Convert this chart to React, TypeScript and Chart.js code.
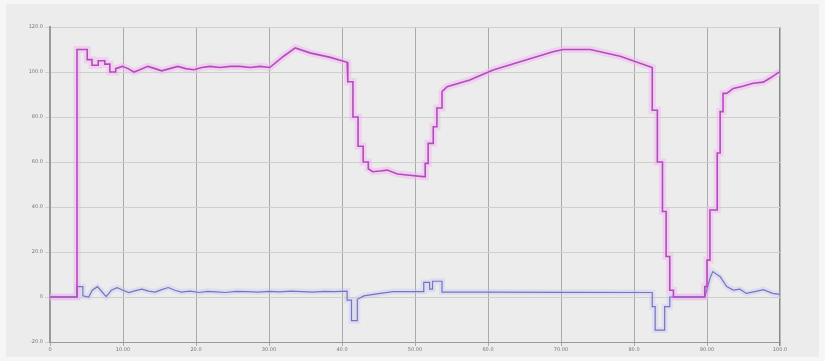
import React, { useEffect, useRef } from "react";
import { Chart, registerables } from "chart.js";

Chart.register(...registerables);

const xTickLabels = ["0", "10.00", "20.0", "30.00", "40.0", "50.00", "60.0", "70.00", "80.0", "90.00", "100.0"];
const yTickLabels = ["-20.0", "0", "20.0", "40.0", "60.0", "80.0", "100.0", "120.0"];

const magentaX = [
  0, 3.7, 3.7, 5.1, 5.1, 5.75, 5.75, 6.6, 6.6, 7.5, 7.5, 8.2, 8.2, 9.0, 9.0,
  9.9, 10.7, 11.5, 12.3, 13.4, 14.4, 15.3, 16.4, 17.5, 18.6, 19.7, 20.8, 21.9,
  23.3, 24.7, 26.0, 27.4, 28.8, 30.1, 32.0, 33.6, 35.6, 38.4, 40.7,
  40.8, 40.8, 41.5, 41.5, 42.2, 42.2, 42.9, 42.9, 43.6, 43.6, 44.2,
  45.2, 46.2, 47.6, 48.9, 51.1,
  51.4, 51.4, 51.8, 51.8, 52.5, 52.5, 53.0, 53.0, 53.7, 53.7, 54.4,
  57.5, 60.7, 64.4, 68.9, 70.3, 74.0, 78.1, 82.5,
  82.5, 83.2, 83.2, 83.9, 83.9, 84.4, 84.4, 84.9, 84.9, 85.4, 85.4,
  89.7, 89.7, 90.0, 90.0, 90.4, 90.4, 91.4, 91.4, 91.8, 91.8, 92.2, 92.2, 92.7,
  93.6, 94.9, 96.3, 97.7, 98.6, 99.6, 100
];
const magentaY = [
  0, 0, 110, 110, 105.5, 105.5, 103, 103, 105, 105, 103.5, 103.5, 100, 100, 101.5,
  102.5, 101.5, 100, 101, 102.5, 101.5, 100.5, 101.5, 102.5, 101.5, 101, 102, 102.5,
  102, 102.5, 102.5, 102, 102.5, 102, 107, 110.7, 108.5, 106.5, 104.3,
  104, 95.7, 95.7, 80, 80, 67, 67, 60, 60, 57, 55.7,
  56, 56.4, 54.7, 54.2, 53.5,
  53.5, 59.4, 59.4, 68.3, 68.3, 75.7, 75.7, 84, 84, 91.3, 93.5,
  96.4, 100.9, 104.6, 109, 110, 110, 107, 102,
  83, 83, 60, 60, 38, 38, 18, 18, 3, 3, 0,
  0, 4.6, 4.6, 16.4, 16.4, 38.7, 38.7, 64, 64, 82.4, 82.4, 90.5, 90.5, 92.7,
  93.7, 95, 95.5, 97.2, 99.4, 100.1, 100
];

const blueX = [
  0, 3.7, 3.7, 4.5, 4.5, 5.3, 5.8, 6.5, 7.2, 7.7, 8.4, 9.2, 10.0, 10.8, 11.7,
  12.6, 13.5, 14.4, 15.3, 16.2, 17.1, 18.0, 19.2, 20.4, 21.6, 22.8, 24.0, 25.5,
  27.0, 28.5, 30.0, 31.5, 33.0, 34.5, 36.0, 37.5, 39.0, 40.7,
  40.7, 41.3, 41.3, 42.1, 42.1, 43.0, 45.0, 47.0, 51.2,
  51.2, 52.0, 52.0, 52.4, 52.4, 53.7, 53.7, 60, 70, 82.5,
  82.5, 82.9, 82.9, 84.2, 84.2, 84.9, 84.9, 89.7,
  90.4, 90.8, 91.8, 92.7, 93.6, 94.5, 95.4, 96.7, 97.7, 99.0, 100
];
const blueY = [
  0, 0, 4.6, 4.6, 0.5, 0, 3, 4.6, 2, 0.2, 3, 4.1, 3, 2, 2.8,
  3.5, 2.6, 2.2, 3.3, 4.2, 3, 2.2, 2.6, 2.0, 2.5, 2.3, 2.0, 2.5,
  2.4, 2.2, 2.5, 2.3, 2.6, 2.4, 2.2, 2.5, 2.4, 2.6,
  -1.4, -1.4, -10.5, -10.5, -1, 0.5, 1.5, 2.4, 2.4,
  6.5, 6.5, 3.5, 3.5, 7, 7, 2.2, 2.2, 2.1, 2.0,
  -4.3, -4.3, -14.7, -14.7, -4.3, -4.3, 0, 0,
  8.3, 11.3, 9, 4.6, 3.1, 3.5, 1.6, 2.5, 3.3, 1.6, 1.2
];

export default function App() {
  const ref = useRef<HTMLCanvasElement>(null);

  useEffect(() => {
    document.body.style.margin = "0";
    const toPts = (xs: number[], ys: number[]) => xs.map((x, i) => ({ x, y: ys[i] }));
    const bgPlugin = {
      id: "bgFill",
      beforeDraw(chart: any) {
        const { ctx, width, height } = chart;
        ctx.save();
        ctx.fillStyle = "#f6f6f6";
        ctx.fillRect(0, 0, width, height);
        ctx.fillStyle = "#ececec";
        ctx.fillRect(6, 4, width - 12, height - 8);
        ctx.restore();
      },
    };
    const font = { family: "DejaVu Sans", size: 5 };
    const chart = new Chart(ref.current!, {
      type: "line",
      data: {
        datasets: [
          {
            label: "magenta",
            data: toPts(magentaX, magentaY),
            borderColor: "#b24cbc",
            borderWidth: 1.6,
            pointRadius: 0,
            tension: 0,
            order: 1,
          },
          {
            label: "magentaGlow",
            data: toPts(magentaX, magentaY),
            borderColor: "rgba(242,180,242,0.5)",
            borderWidth: 7,
            pointRadius: 0,
            tension: 0,
            order: 3,
          },
          {
            label: "blue",
            data: toPts(blueX, blueY),
            borderColor: "#7474c4",
            borderWidth: 1.2,
            pointRadius: 0,
            tension: 0,
            order: 2,
          },
          {
            label: "blueGlow",
            data: toPts(blueX, blueY),
            borderColor: "rgba(195,195,240,0.35)",
            borderWidth: 6,
            pointRadius: 0,
            tension: 0,
            order: 4,
          },
        ],
      },
      options: {
        responsive: false,
        animation: false,
        layout: { padding: { left: 0, top: 27, right: 45, bottom: 0 } },
        plugins: { legend: { display: false }, tooltip: { enabled: false } },
        scales: {
          x: {
            type: "linear",
            min: 0,
            max: 100,
            afterFit: (s: any) => { s.height = 19; },
            ticks: {
              stepSize: 10,
              font,
              color: "#777",
              padding: 1,
              maxRotation: 0,
              callback: (_v: any, i: number) => xTickLabels[i],
            },
            grid: {
              color: (c: any) => (c.index === 10 ? "#888" : "#aaaaaa"),
              lineWidth: (c: any) => (c.index === 10 ? 1.5 : 1),
              tickLength: 4,
            },
            border: { color: "#999", width: 1 },
          },
          y: {
            min: -20,
            max: 120,
            afterFit: (s: any) => { s.width = 50; },
            ticks: {
              stepSize: 20,
              font,
              color: "#777",
              padding: 2,
              callback: (_v: any, i: number) => yTickLabels[i],
            },
            grid: { color: "#cfcfcf", tickLength: 5 },
            border: { color: "#999", width: 2 },
          },
        },
      },
      plugins: [bgPlugin],
    });
    return () => chart.destroy();
  }, []);

  return (
    <div style={{ width: 825, height: 361 }}>
      <canvas ref={ref} width={825} height={361} />
    </div>
  );
}
